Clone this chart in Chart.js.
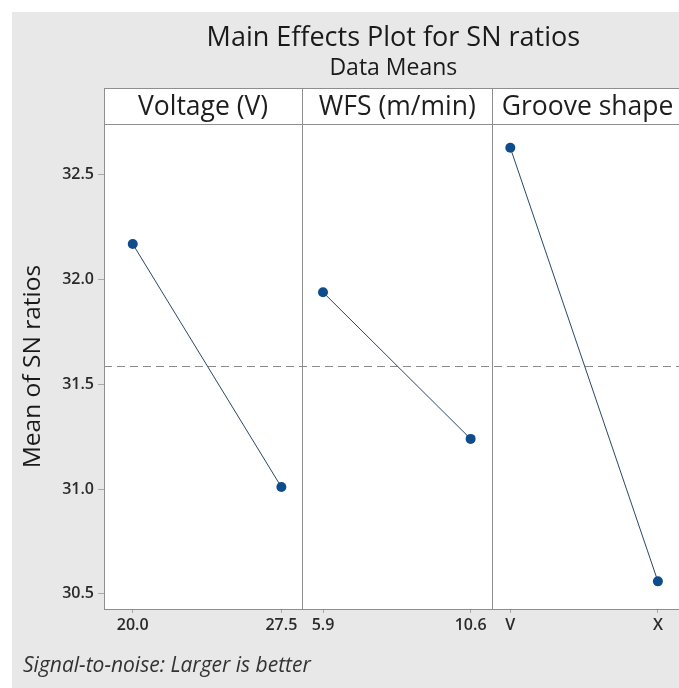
<!DOCTYPE html>
<html>
<head>
<meta charset="utf-8">
<script src="https://cdn.jsdelivr.net/npm/chart.js@4.4.1/dist/chart.umd.min.js"></script>
<style>
  html, body { margin: 0; padding: 0; background: #fff; overflow: hidden; }
  #frame { position: absolute; left: 12px; top: 12px; width: 700px; height: 700px; background: #e8e8e8; }
  #chart { position: absolute; left: 0; top: 0; }
  #footnote { position: absolute; left: 23px; top: 650px; font: italic 21px 'Open Sans', sans-serif; color: #333; }
</style>
</head>
<body>
<div id="frame"></div>
<canvas id="chart" width="690" height="688"></canvas>
<div id="footnote">Signal-to-noise: Larger is better</div>
<script>
// factor names (panel headers)
const factorNames = ['Voltage (V)', 'WFS (m/min)', 'Groove shape'];

// levels and mean SN ratios
const voltageLevels = [20.0, 27.5];
const voltageMeans = [32.17, 31.01];

const wfsLevels = [5.9, 10.6];
const wfsMeans = [31.94, 31.24];

const grooveLevels = ['V', 'X'];
const grooveMeans = [32.63, 30.56];

const overallMean = 31.59;
const yTickValues = [30.5, 31.0, 31.5, 32.0, 32.5];

const pointColor = '#0f4c8c';
const lineColor = '#2a4868';
const frameColor = '#8e8e8e';
const fontFamily = "'Open Sans', sans-serif";

document.addEventListener('DOMContentLoaded', function() {
    const ctx = document.getElementById('chart');

    function makeSeries(xs, ys, axisId) {
        return {
            xAxisID: axisId,
            data: xs.map((x, i) => ({ x: x, y: ys[i] })),
            borderColor: lineColor,
            borderWidth: 1,
            pointRadius: 5,
            pointBackgroundColor: pointColor,
            pointBorderColor: pointColor,
            pointBorderWidth: 0,
            showLine: true,
            tension: 0
        };
    }

    // panels: white plot area, frames, header strips, mean line
    const panelPlugin = {
        id: 'panels',
        beforeDatasetsDraw(chart) {
            const c = chart.ctx;
            const area = chart.chartArea;
            const headerH = 36;
            const ids = ['xV', 'xW', 'xG'];
            c.save();
            ids.forEach((id, i) => {
                const s = chart.scales[id];
                c.fillStyle = '#fff';
                c.fillRect(s.left, area.top - headerH, s.width, area.bottom - area.top + headerH);
            });
            // mean line
            const yPix = chart.scales.y.getPixelForValue(overallMean);
            c.strokeStyle = '#8a8a8a';
            c.lineWidth = 1;
            c.setLineDash([8, 5]);
            c.beginPath();
            c.moveTo(area.left, Math.round(yPix) + 0.5);
            c.lineTo(area.right, Math.round(yPix) + 0.5);
            c.stroke();
            c.setLineDash([]);
            // frames + headers
            c.strokeStyle = frameColor;
            ids.forEach((id, i) => {
                const s = chart.scales[id];
                const l = Math.round(s.left) + 0.5;
                const w = Math.round(s.width);
                c.strokeRect(l, Math.round(area.top) + 0.5, w, Math.round(area.bottom - area.top));
                c.strokeRect(l, Math.round(area.top - headerH) + 0.5, w, headerH);
                c.fillStyle = '#1e1e1e';
                c.font = '26.5px ' + fontFamily;
                c.textAlign = 'center';
                c.textBaseline = 'middle';
                c.fillText(factorNames[i], s.left + s.width / 2, area.top - headerH / 2 + 1);
            });
            c.restore();
        }
    };

    function xAxis(levels, min, max, weight, labels) {
        return {
            type: 'linear',
            position: 'bottom',
            stack: 'panels',
            stackWeight: weight,
            min: min,
            max: max,
            border: { display: false },
            grid: { drawOnChartArea: false, drawTicks: true, tickLength: 4, tickColor: '#aaa' },
            afterBuildTicks: function(scale) {
                scale.ticks = levels.map(v => ({ value: v }));
            },
            afterFit: function(scale) { scale.height = 32; },
            ticks: {
                autoSkip: false,
                maxRotation: 0,
                padding: 3,
                color: '#2a2a2a',
                font: { family: fontFamily, size: 16, weight: '600' },
                callback: function(value) {
                    return labels ? labels[value] : value.toFixed(1);
                }
            }
        };
    }

    new Chart(ctx, {
        type: 'scatter',
        data: {
            datasets: [
                makeSeries(voltageLevels, voltageMeans, 'xV'),
                makeSeries(wfsLevels, wfsMeans, 'xW'),
                makeSeries(grooveLevels.map((g, i) => i), grooveMeans, 'xG')
            ]
        },
        options: {
            responsive: false,
            animation: false,
            layout: { padding: { left: 0, right: 2, top: 0, bottom: 47 } },
            plugins: {
                legend: { display: false },
                tooltip: { enabled: false },
                title: {
                    display: true,
                    fullSize: false,
                    text: 'Main Effects Plot for SN ratios',
                    color: '#1a1a1a',
                    font: { family: fontFamily, size: 27, weight: 'normal' },
                    padding: { top: 22, bottom: 0 }
                },
                subtitle: {
                    display: true,
                    fullSize: false,
                    text: 'Data Means',
                    color: '#1a1a1a',
                    font: { family: fontFamily, size: 23, weight: 'normal' },
                    padding: { top: 0, bottom: 42 }
                }
            },
            scales: {
                xV: xAxis(voltageLevels, 18.55, 28.55, 200),
                xW: xAxis(wfsLevels, 5.237, 11.294, 192),
                xG: xAxis([0, 1], -0.121, 1.168, 192, grooveLevels),
                y: {
                    type: 'linear',
                    position: 'left',
                    min: 30.428,
                    max: 32.743,
                    border: { display: false },
                    grid: { drawOnChartArea: false, drawTicks: true, tickLength: 6, tickColor: '#aaa' },
                    afterBuildTicks: function(scale) {
                        scale.ticks = yTickValues.map(v => ({ value: v }));
                    },
                    afterFit: function(scale) { scale.width = 104; },
                    ticks: {
                        padding: 4,
                        color: '#2a2a2a',
                        font: { family: fontFamily, size: 16, weight: '600' },
                        callback: function(value) { return value.toFixed(1); }
                    },
                    title: {
                        display: true,
                        text: 'Mean of SN ratios',
                        color: '#1a1a1a',
                        font: { family: fontFamily, size: 24.5, weight: 'normal' },
                        padding: { top: 18, bottom: 0 }
                    }
                }
            }
        },
        plugins: [panelPlugin]
    });
});
</script>
</body>
</html>
